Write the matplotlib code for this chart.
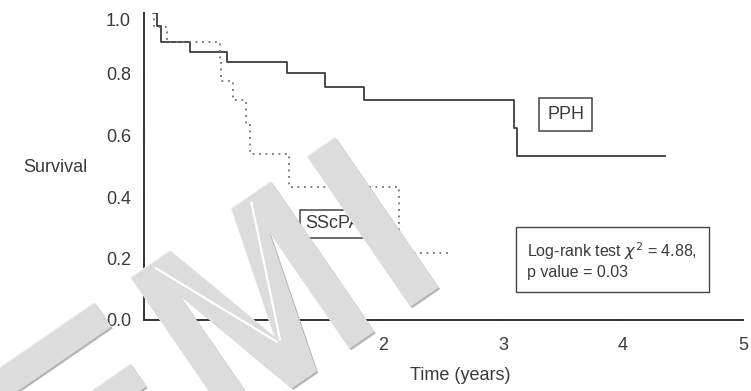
import numpy as np
import matplotlib.pyplot as plt
import matplotlib.transforms as mtransforms
from matplotlib.patches import Polygon

plt.rcParams["font.family"] = ["Liberation Sans", "DejaVu Sans"]

# Kaplan-Meier step curves (time in years, survival fraction)
pph_time = [0.08, 0.11, 0.15, 0.39, 0.70, 1.195, 1.515, 1.843, 3.093, 3.115, 4.35]
pph_surv = [1.0, 0.955, 0.903, 0.870, 0.838, 0.803, 0.758, 0.714, 0.623, 0.533, 0.533]

ssc_time = [0.08, 0.09, 0.20, 0.637, 0.65, 0.75, 0.853, 0.889, 1.21, 2.13, 2.57]
ssc_surv = [1.0, 0.953, 0.903, 0.838, 0.778, 0.717, 0.634, 0.540, 0.434, 0.218, 0.218]

y_ticks = [0.0, 0.2, 0.4, 0.6, 0.8, 1.0]
x_ticks = [1, 2, 3, 4, 5]

W, H = 751, 391
fig = plt.figure(figsize=(W / 100, H / 100), dpi=100)
ax = fig.add_axes([143.5 / W, 1 - 320 / H, 599.5 / W, 307.5 / H])

ax.step(pph_time, pph_surv, where="post", color="#3c3c3c", lw=1.3)
ax.step(ssc_time, ssc_surv, where="post", color="#707070", lw=1.3,
        linestyle=(0, (1, 2.6)))

ax.set_xlim(0, 5)
ax.set_ylim(0, 1.0)
ax.set_yticks(y_ticks)
ax.set_yticklabels([f"{v:.1f}" for v in y_ticks])
ax.set_xticks(x_ticks)
ax.set_xticklabels([str(v) for v in x_ticks])
for s in ("top", "right"):
    ax.spines[s].set_visible(False)
for s in ("left", "bottom"):
    ax.spines[s].set_color("#333333")
    ax.spines[s].set_linewidth(1.4)
ax.tick_params(axis="both", length=2, width=1.5, direction="inout",
               colors="#333333", labelsize=13, labelcolor="#3a3a3a")
ax.tick_params(axis="y", pad=8)
ax.tick_params(axis="x", pad=11)

# top label sits a little lower than its tick
top_lab = ax.get_yticklabels()[-1]
top_lab.set_transform(top_lab.get_transform() +
                      mtransforms.ScaledTranslation(0, -5 / 72, fig.dpi_scale_trans))

ax.set_xlabel("Time (years)", fontsize=13, color="#3a3a3a", va="center")
ax.xaxis.set_label_coords((460 - 143.5) / 599.5, (320 - 375) / 307.5)
ax.set_ylabel("Survival", fontsize=13, color="#3a3a3a", rotation=0,
              ha="center", va="center")
ax.yaxis.set_label_coords((55 - 143.5) / 599.5, (320 - 167) / 307.5)

box = dict(boxstyle="square,pad=0.45", fc="white", ec="#444444", lw=1.1)
ax.text(3.52, 0.668, "PPH", fontsize=13, color="#3a3a3a", ha="center",
        va="center", bbox=box)
ax.text(1.35, 0.313, "SScPAH", fontsize=13, color="#3a3a3a", ha="left",
        va="center", bbox=dict(boxstyle="square,pad=0.3", fc="white",
                               ec="#444444", lw=1.1))
ax.text(3.2, 0.194, "Log-rank test $\\chi^2$ = 4.88,\np value = 0.03",
        fontsize=11.5, color="#3a3a3a", ha="left", va="center", linespacing=1.3,
        bbox=dict(boxstyle="square,pad=0.72", fc="white", ec="#444444", lw=1.0))

# "EMI" overlay letters, laid out in a rotated letter frame (u along, d down)
origin = np.array([131.0, 278.0])
ang = np.deg2rad(34.5)
u_vec = np.array([np.cos(ang), -np.sin(ang)])
d_vec = np.array([np.sin(ang), np.cos(ang)])

letter_e = [(-194, 0), (-44, 0), (-44, 29), (-164, 29), (-164, 71), (-49, 71),
            (-49, 98), (-164, 98), (-164, 153), (-44, 153), (-44, 182), (-194, 182)]
letter_m = [(0, 0), (48, 0), (85, 130), (122, 0), (170, 0), (170, 182),
            (140, 182), (140, 40), (100, 182), (70, 182), (30, 40), (30, 182),
            (0, 182)]
letter_i = [(214, 0), (248, 0), (248, 182), (214, 182)]
slivers = [[(26, 6), (84, 135)], [(142, 6), (88, 135)]]


def to_fig(pts, shift=(0, 0)):
    out = []
    for u, d in pts:
        px = origin + u * u_vec + d * d_vec + np.array(shift)
        out.append((px[0] / W, 1 - px[1] / H))
    return out


for letter in (letter_e, letter_m, letter_i):
    fig.add_artist(Polygon(to_fig(letter, (1.6, 1.6)), closed=True,
                           transform=fig.transFigure, fc="#b4b4b4", ec="none",
                           zorder=10))
    fig.add_artist(Polygon(to_fig(letter, (-0.8, -0.8)), closed=True,
                           transform=fig.transFigure, fc="#f4f4f4", ec="none",
                           zorder=10))
    fig.add_artist(Polygon(to_fig(letter), closed=True,
                           transform=fig.transFigure, fc="#dcdcdc", ec="none",
                           zorder=11))
for seg in slivers:
    pts = to_fig(seg)
    fig.add_artist(plt.Line2D([p[0] for p in pts], [p[1] for p in pts],
                              transform=fig.transFigure, color="white", lw=1.6,
                              zorder=12))

fig.savefig("out.png", dpi=100)
